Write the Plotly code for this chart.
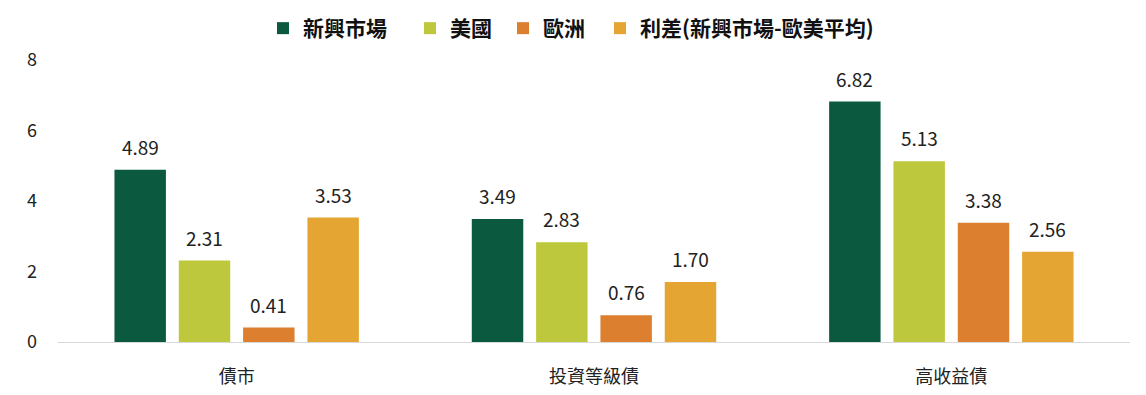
import plotly.graph_objects as go

categories = ["債市", "投資等級債", "高收益債"]
series_names = ["新興市場", "美國", "歐洲", "利差(新興市場-歐美平均)"]
em_values = [4.89, 3.49, 6.82]
us_values = [2.31, 2.83, 5.13]
eu_values = [0.41, 0.76, 3.38]
spread_values = [3.53, 1.70, 2.56]
colors = ["#0b5a40", "#bec83d", "#dc7f2f", "#e5a532"]
y_ticks = [0, 2, 4, 6, 8]

all_values = [em_values, us_values, eu_values, spread_values]
FONT = "Noto Sans CJK TC"
W, H = 1146, 395
bargap = 0.28
bargroupgap = 0.2
legend_left_px = [255, 402, 495, 592]
legend_ids = ["legend", "legend2", "legend3", "legend4"]

fig = go.Figure()
for name, vals, col, lid in zip(series_names, all_values, colors, legend_ids):
    fig.add_trace(go.Bar(x=categories, y=vals, name=name, marker_color=col,
                         marker_line_width=0, hoverinfo="skip", legend=lid))

n = len(all_values)
slot = (1 - bargap) / n
for i, vals in enumerate(all_values):
    off = (i - (n - 1) / 2) * slot
    for j, v in enumerate(vals):
        fig.add_annotation(x=j + off, y=v, xref="x", yref="y", text=f"{v:.2f}",
                           showarrow=False, yanchor="bottom", yshift=8,
                           font=dict(family=FONT, size=19, color="#222222"))

legend_style = dict(orientation="h", xref="container", yref="container",
                    xanchor="left", yanchor="top", y=1.0,
                    font=dict(family=FONT, size=21, color="#111111", weight="bold"),
                    bgcolor="rgba(0,0,0,0)", borderwidth=0)
legends = {}
for lid, px in zip(legend_ids, legend_left_px):
    legends[lid] = dict(legend_style, x=px / W)

fig.update_layout(
    width=W, height=H,
    margin=dict(l=50, r=24, t=52, b=61, autoexpand=False),
    paper_bgcolor="white", plot_bgcolor="white",
    barmode="group", bargap=bargap, bargroupgap=bargroupgap,
    font=dict(family=FONT, size=18, color="#222222"),
    showlegend=True,
    **legends,
)
fig.update_xaxes(showline=True, linecolor="#d9d9d9", linewidth=1, showgrid=False,
                 ticks="", ticklabelstandoff=18, automargin=False,
                 tickfont=dict(family=FONT, size=18, color="#222222"))
fig.update_yaxes(range=[0, 8], tickvals=y_ticks, showgrid=False, zeroline=False,
                 showline=False, ticks="", ticklabelstandoff=20, automargin=False,
                 tickfont=dict(family=FONT, size=18, color="#222222"))

fig.write_html("out.html")
